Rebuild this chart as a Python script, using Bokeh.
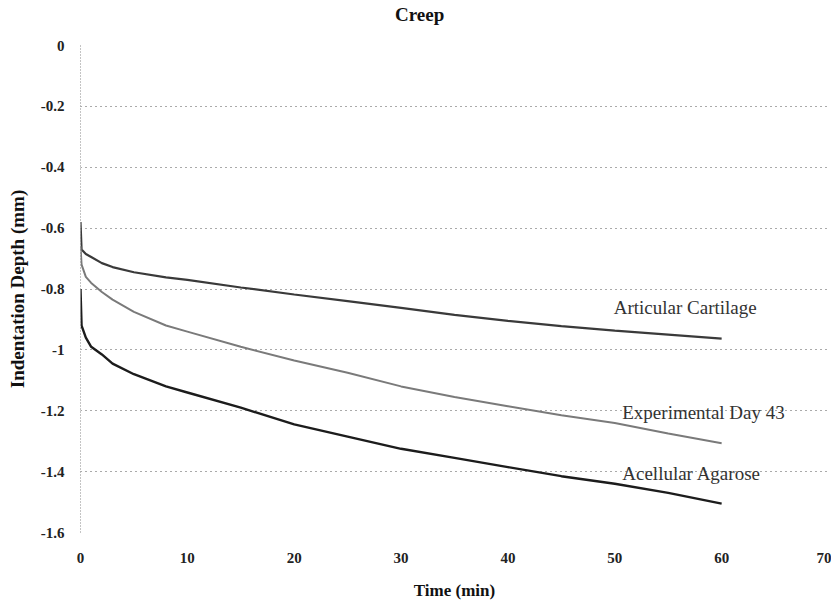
from bokeh.plotting import figure
from bokeh.models import Range1d, FixedTicker, Div
from bokeh.layouts import column
from bokeh.core.properties import value
from bokeh.embed import file_html
from bokeh.resources import INLINE

# ---- data ----
t_min = [0, 0.1, 0.5, 1, 2, 3, 5, 8, 10, 15, 20, 25, 30, 35, 40, 45, 50, 55, 60]

articular_cartilage = [-0.58, -0.67, -0.685, -0.695, -0.715, -0.728, -0.745, -0.762, -0.770,
                       -0.795, -0.818, -0.840, -0.862, -0.885, -0.905, -0.922, -0.937, -0.950, -0.963]
experimental_day43 = [-0.66, -0.72, -0.76, -0.78, -0.81, -0.835, -0.875, -0.92, -0.94,
                      -0.99, -1.035, -1.075, -1.12, -1.155, -1.185, -1.215, -1.24, -1.275, -1.307]
acellular_agarose = [-0.80, -0.92, -0.96, -0.99, -1.015, -1.045, -1.08, -1.12, -1.14,
                     -1.19, -1.245, -1.285, -1.325, -1.355, -1.385, -1.415, -1.44, -1.47, -1.505]

series_names = ["Articular Cartilage", "Experimental  Day 43", "Acellular Agarose"]
label_x = [49.9, 50.7, 50.7]
label_y = [-0.861, -1.206, -1.406]

x_ticks = [0, 10, 20, 30, 40, 50, 60, 70]
y_ticks = [0, -0.2, -0.4, -0.6, -0.8, -1.0, -1.2, -1.4, -1.6]
y_tick_labels = ["0", "-0.2", "-0.4", "-0.6", "-0.8", "-1", "-1.2", "-1.4", "-1.6"]

SERIF = "Liberation Serif"

title = Div(text="Creep", width=831, height=30, margin=(0, 0, 0, 0),
            styles={"font-family": SERIF, "font-size": "19px", "font-weight": "bold",
                    "color": "#111111", "line-height": "30px", "padding-left": "395px",
                    "box-sizing": "border-box"})

p = figure(width=831, height=572, output_backend="svg", toolbar_location=None,
           x_range=Range1d(0, 70), y_range=Range1d(-1.6, 0),
           min_border_left=80, min_border_right=3, min_border_top=15, min_border_bottom=70,
           margin=(0, 0, 0, 0))
p.outline_line_color = None
p.background_fill_color = "white"

# axes
for ax in (p.xaxis[0], p.yaxis[0]):
    ax.major_tick_line_color = None
    ax.minor_tick_line_color = None
    ax.major_label_text_font = SERIF
    ax.major_label_text_font_size = "15px"
    ax.major_label_text_font_style = "bold"
    ax.major_label_text_color = "#222222"
    ax.axis_label_text_font = SERIF
    ax.axis_label_text_font_size = "17px"
    ax.axis_label_text_font_style = "bold"
    ax.axis_label_text_color = "#111111"

p.xaxis.ticker = FixedTicker(ticks=x_ticks)
p.xaxis.axis_line_color = None
p.xaxis.major_label_standoff = 14
p.xaxis.axis_label = "Time (min)"
p.xaxis.axis_label_standoff = 15

p.yaxis.ticker = FixedTicker(ticks=y_ticks)
p.yaxis.major_label_overrides = {v: s for v, s in zip(y_ticks, y_tick_labels)}
p.yaxis.axis_line_color = "#888888"
p.yaxis.axis_line_dash = "1 2"
p.yaxis.major_label_standoff = 10
p.yaxis.axis_label = "Indentation Depth (mm)"
p.yaxis.axis_label_text_font_size = "19px"
p.yaxis.axis_label_standoff = 10

# grids
p.xgrid.grid_line_color = None
p.ygrid.ticker = FixedTicker(ticks=y_ticks)
p.ygrid.grid_line_color = "#555555"
p.ygrid.grid_line_dash = "1 4"
p.ygrid.grid_line_width = 1

# curves
p.line(t_min, articular_cartilage, line_color="#3a3a3a", line_width=2.2)
p.line(t_min, experimental_day43, line_color="#7a7a7a", line_width=2.0)
p.line(t_min, acellular_agarose, line_color="#1c1c1c", line_width=2.4)

p.text(x=label_x, y=label_y, text=series_names, text_font=value(SERIF),
       text_font_size="19px", text_color="#333333",
       text_align="left", text_baseline="middle")

layout = column(title, p, spacing=0)

open("out.html", "w").write(file_html(layout, INLINE))
